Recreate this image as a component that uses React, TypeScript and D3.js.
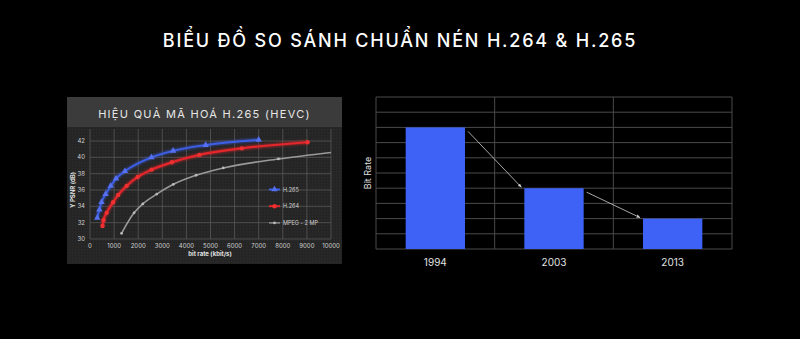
import React from "react";
import * as d3 from "d3";

// ---------- data ----------
const h265: [number, number][] = [
  [300, 32.6], [390, 33.6], [480, 34.5], [650, 35.5], [860, 36.5], [1080, 37.4],
  [1450, 38.3], [2550, 40.0], [3450, 40.8], [4800, 41.5], [7000, 42.15],
];
const h264: [number, number][] = [
  [520, 31.6], [560, 32.3], [690, 33.2], [960, 34.5], [1170, 35.4], [1520, 36.5],
  [1980, 37.6], [2560, 38.5], [3400, 39.4], [4540, 40.3], [6300, 41.1], [9030, 41.85],
];
const mpeg2: [number, number][] = [
  [1310, 30.7], [1830, 33.2], [2190, 34.3], [2770, 35.5], [3460, 36.7], [4400, 37.8],
  [5530, 38.7], [7820, 39.8], [10000, 40.6],
];
const seriesNames = ["H.265", "H.264", "MPEG - 2 MP"];
const xTicks = [0, 1000, 2000, 3000, 4000, 5000, 6000, 7000, 8000, 9000, 10000];
const yTicks = [30, 32, 34, 36, 38, 40, 42];

const years = ["1994", "2003", "2013"];
const bitRates = [8, 4, 2];

const mainTitle = "BIỂU ĐỒ SO SÁNH CHUẨN NÉN H.264 & H.265";
const panelTitle = "HIỆU QUẢ MÃ HOÁ H.265 (HEVC)";

export default function App() {
  // left chart scales
  const x = d3.scaleLinear().domain([0, 10000]).range([90, 331]);
  const y = d3.scaleLinear().domain([30, 42]).range([239, 141]);
  const line = d3
    .line<[number, number]>()
    .x((d) => x(d[0]))
    .y((d) => y(d[1]))
    .curve(d3.curveMonotoneX);

  // right chart scales
  const xb = d3.scaleBand<string>().domain(years).range([376, 732]).paddingInner(0.5).paddingOuter(0.25);
  const yb = d3.scaleLinear().domain([0, 10]).range([249, 97]);
  const bandEdges = d3.range(years.length + 1).map((i) => 376 + i * xb.step());

  const blue = "#3d5fe6";
  const red = "#e3262b";
  const gray = "#9a9a9a";

  const tri = d3.symbol().type(d3.symbolTriangle).size(18)() as string;

  const arrows = bitRates.slice(0, -1).map((v, i) => {
    const x1 = (xb(years[i]) as number) + xb.bandwidth() + 3;
    const y1 = yb(v) + 4;
    const x2 = (xb(years[i + 1]) as number) - 3;
    const y2 = yb(bitRates[i + 1]) - 1;
    return { x1, y1, x2, y2 };
  });

  return (
    <svg
      width={800}
      height={339}
      style={{ position: "absolute", left: 0, top: 0, background: "#000" }}
      fontFamily="Inter, 'Noto Sans', sans-serif"
    >
      <defs>
        <marker id="arr" viewBox="0 0 10 10" refX="9" refY="5" markerWidth="5" markerHeight="5" orient="auto">
          <path d="M0,1 L10,5 L0,9 z" fill="#cfcfcf" />
        </marker>
        <filter id="glow" x="-10%" y="-10%" width="120%" height="120%">
          <feGaussianBlur stdDeviation="1.2" />
        </filter>
        <pattern id="tex" width="3" height="3" patternUnits="userSpaceOnUse">
          <rect width="3" height="3" fill="#262626" />
          <rect width="1" height="1" fill="#2c2c2c" />
          <rect x="2" y="2" width="1" height="1" fill="#222" />
        </pattern>
      </defs>
      <rect width={800} height={339} fill="#000" />

      {/* main title */}
      <text x={400} y={47} textAnchor="middle" fill="#fff" fontSize={18} fontWeight={500} letterSpacing={1.8}>
        {mainTitle}
      </text>

      {/* ---------- left panel ---------- */}
      <rect x={67} y={97} width={275} height={167} fill="url(#tex)" />
      <rect x={67} y={97} width={275} height={30} fill="#3b3b3b" />
      <text x={204.5} y={118} textAnchor="middle" fill="#e6e6e6" fontSize={11} letterSpacing={1.3}>
        {panelTitle}
      </text>

      {/* grid */}
      {xTicks.map((t) => (
        <line key={"gx" + t} x1={x(t)} x2={x(t)} y1={129} y2={239} stroke="#5e5e5e" strokeWidth={0.7} />
      ))}
      {yTicks.map((t) => (
        <line key={"gy" + t} x1={x(0)} x2={x(10000)} y1={y(t)} y2={y(t)} stroke="#5e5e5e" strokeWidth={0.7} />
      ))}
      {yTicks.map((t) => (
        <text key={"ty" + t} x={85} y={y(t) + 2} textAnchor="end" fill="#d0d0d0" fontSize={6}>
          {t}
        </text>
      ))}
      {xTicks.map((t) => (
        <text key={"tx" + t} x={x(t)} y={248} textAnchor="middle" fill="#d0d0d0" fontSize={6}>
          {t}
        </text>
      ))}
      <text x={210} y={256} textAnchor="middle" fill="#e0e0e0" fontSize={6} fontWeight="bold">
        bit rate (kbit/s)
      </text>
      <text
        transform={`translate(75,190) rotate(-90)`}
        textAnchor="middle"
        fill="#e0e0e0"
        fontSize={6}
        fontWeight="bold"
      >
        Y PSNR (dB)
      </text>

      {/* series */}
      <path d={line(mpeg2) as string} fill="none" stroke={gray} strokeWidth={1.6} />
      {mpeg2.slice(0, -1).map((d, i) => (
        <circle key={"m" + i} cx={x(d[0])} cy={y(d[1])} r={1.4} fill="#bbb" />
      ))}
      <path d={line(h264) as string} fill="none" stroke={red} strokeWidth={4} opacity={0.5} filter="url(#glow)" />
      <path d={line(h264) as string} fill="none" stroke={red} strokeWidth={2.2} />
      {h264.map((d, i) => (
        <circle key={"r" + i} cx={x(d[0])} cy={y(d[1])} r={2.2} fill="#f03030" />
      ))}
      <path d={line(h265) as string} fill="none" stroke={blue} strokeWidth={3.5} opacity={0.5} filter="url(#glow)" />
      <path d={line(h265) as string} fill="none" stroke={blue} strokeWidth={1.8} />
      {h265.map((d, i) => (
        <path key={"b" + i} d={tri} transform={`translate(${x(d[0])},${y(d[1])})`} fill="#5570f0" />
      ))}

      {/* legend */}
      {seriesNames.map((n, i) => {
        const ly = 189.5 + i * 16.7;
        const col = [blue, red, gray][i];
        return (
          <g key={n}>
            <line x1={269} x2={280} y1={ly} y2={ly} stroke={col} strokeWidth={i === 2 ? 1.3 : 2} />
            {i === 0 && <path d={tri} transform={`translate(274.5,${ly})`} fill="#5570f0" />}
            {i === 1 && <circle cx={274.5} cy={ly} r={2.2} fill="#f03030" />}
            {i === 2 && <circle cx={274.5} cy={ly} r={1.3} fill="#bbb" />}
            <text x={283} y={ly + 2} fill="#cfcfcf" fontSize={5.5}>
              {n}
            </text>
          </g>
        );
      })}

      {/* ---------- right chart ---------- */}
      {yb.ticks(10).map((t) => (
        <line key={"hg" + t} x1={376} x2={732} y1={yb(t)} y2={yb(t)} stroke="#4a4a4a" strokeWidth={1} />
      ))}
      {bandEdges.map((e, i) => (
        <line key={"vg" + i} x1={e} x2={e} y1={97} y2={249} stroke="#4a4a4a" strokeWidth={1} />
      ))}
      {years.map((yr, i) => (
        <rect
          key={yr}
          x={xb(yr)}
          y={yb(bitRates[i])}
          width={xb.bandwidth()}
          height={yb(0) - yb(bitRates[i])}
          fill="#3d62f5"
        />
      ))}
      {arrows.map((a, i) => (
        <line key={"ar" + i} x1={a.x1} y1={a.y1} x2={a.x2} y2={a.y2} stroke="#cfcfcf" strokeWidth={0.8} markerEnd="url(#arr)" />
      ))}
      {years.map((yr) => (
        <text key={"yl" + yr} x={(xb(yr) as number) + xb.bandwidth() / 2} y={266} textAnchor="middle" fill="#e0e0e0" fontSize={10}>
          {yr}
        </text>
      ))}
      <text transform="translate(371,173) rotate(-90)" textAnchor="middle" fill="#e0e0e0" fontSize={9}>
        Bit Rate
      </text>
    </svg>
  );
}
